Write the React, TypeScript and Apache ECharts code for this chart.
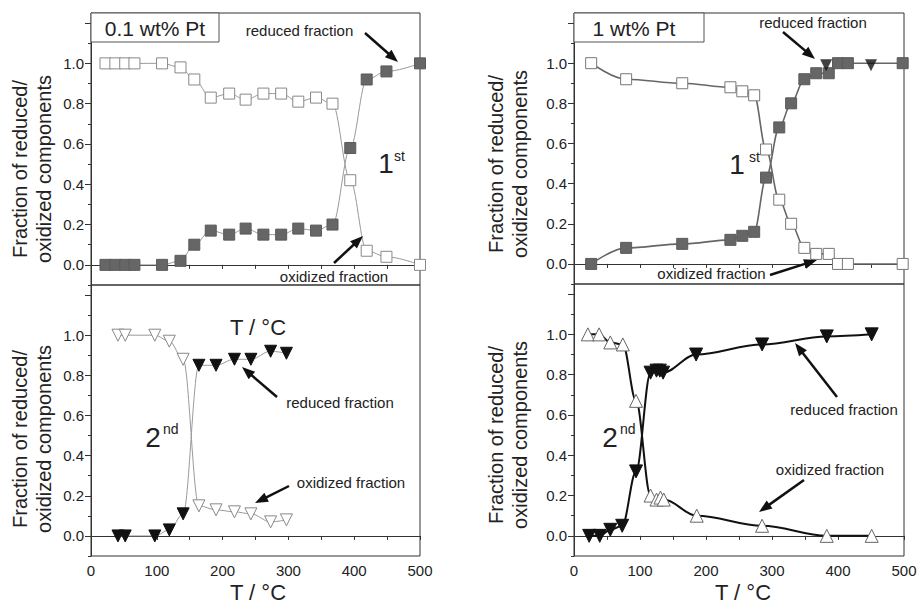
import React, { useEffect, useRef } from "react";
import * as echarts from "echarts";

// ---------- data ----------
// 0.1 wt% Pt, 1st cycle
const tl_T = [22, 37, 52, 66, 108, 136, 157, 182, 210, 235, 262, 289, 315, 342, 367, 394, 419, 449, 500];
const tl_oxidized = [1.0, 1.0, 1.0, 1.0, 1.0, 0.98, 0.92, 0.83, 0.85, 0.82, 0.85, 0.85, 0.81, 0.83, 0.8, 0.42, 0.07, 0.04, 0.0];
const tl_reduced = [0, 0, 0, 0, 0, 0.02, 0.1, 0.17, 0.15, 0.18, 0.15, 0.15, 0.18, 0.17, 0.2, 0.58, 0.92, 0.96, 1.0];

// 0.1 wt% Pt, 2nd cycle
const bl_T = [41, 52, 97, 119, 140, 164, 190, 218, 243, 273, 297];
const bl_oxidized = [1.0, 1.0, 1.0, 0.97, 0.88, 0.15, 0.13, 0.12, 0.11, 0.07, 0.08];
const bl_reduced = [0, 0, 0, 0.03, 0.11, 0.85, 0.85, 0.88, 0.88, 0.92, 0.91];

// 1 wt% Pt, 1st cycle
const tr_T = [26, 79, 164, 237, 255, 273, 291, 311, 329, 349, 367, 386, 400, 415, 498];
const tr_oxidized = [1.0, 0.92, 0.9, 0.88, 0.86, 0.84, 0.57, 0.32, 0.2, 0.08, 0.05, 0.05, 0.0, 0.0, 0.0];
const tr_reduced = [0.0, 0.08, 0.1, 0.12, 0.14, 0.16, 0.43, 0.68, 0.8, 0.92, 0.95, 0.95, 1.0, 1.0, 1.0];
const tr_extraT = [382, 450];
const tr_extra = [0.99, 0.99];

// 1 wt% Pt, 2nd cycle
const br_oxT = [21, 38, 55, 74, 94, 116, 125, 131, 136, 186, 285, 383, 451];
const br_oxidized = [1.0, 1.0, 0.96, 0.95, 0.67, 0.2, 0.18, 0.19, 0.18, 0.1, 0.05, 0.0, 0.0];
const br_redT = [23, 39, 55, 73, 94, 116, 125, 130, 135, 185, 285, 383, 451];
const br_reduced = [0.0, 0.0, 0.03, 0.05, 0.32, 0.81, 0.82, 0.82, 0.81, 0.9, 0.95, 0.99, 1.0];

// ticks
const xTicks = [0, 50, 100, 150, 200, 250, 300, 350, 400, 450, 500];
const xTickLabels = [0, 100, 200, 300, 400, 500];
const yMajorTicks = [0, 0.2, 0.4, 0.6, 0.8, 1.0, 1.2];
const yTickLabels = [0, 0.2, 0.4, 0.6, 0.8, 1.0];
const yMinorTicks = [-0.1, 0.1, 0.3, 0.5, 0.7, 0.9, 1.1];

const yAxisTitle = "Fraction of reduced/\noxidized components";
const xAxisTitle = "T / °C";

// ---------- layout ----------
const FONT = "'Liberation Sans', Arial, Helvetica, sans-serif";
const GRIDS = [
  { left: 91, top: 13, width: 329, height: 272 },
  { left: 91, top: 285, width: 329, height: 271 },
  { left: 574, top: 13, width: 330, height: 271 },
  { left: 574, top: 284, width: 330, height: 272 },
];

function pts(xs: number[], ys: number[]) {
  return xs.map((x, i) => [x, ys[i]]);
}

function arrow(x1: number, y1: number, x2: number, y2: number) {
  const dx = x2 - x1, dy = y2 - y1;
  const L = Math.hypot(dx, dy);
  const ux = dx / L, uy = dy / L;
  const hl = 13, hw = 5;
  const bx = x2 - ux * hl, by = y2 - uy * hl;
  return [
    { type: "line", z: 100, shape: { x1, y1, x2: bx + ux * 2, y2: by + uy * 2 }, style: { stroke: "#111", lineWidth: 2.5 } },
    { type: "polygon", z: 100, shape: { points: [[x2, y2], [bx - uy * hw, by + ux * hw], [bx + uy * hw, by - ux * hw]] }, style: { fill: "#111" } },
  ];
}

function txt(text: string, x: number, y: number, size: number, extra: any = {}) {
  const align = extra.align || "center";
  return {
    type: "text",
    z: 101,
    x,
    y,
    rotation: extra.rotation || 0,
    style: {
      text,
      fontSize: size,
      fontFamily: FONT,
      fill: "#222",
      lineHeight: extra.lineHeight,
      align,
      textAlign: align,
      verticalAlign: "middle",
      textVerticalAlign: "middle",
    },
  };
}

function box(x: number, y: number, w: number, h: number) {
  return { type: "rect", z: 99, shape: { x, y, width: w, height: h }, style: { fill: "#fff", stroke: "#555", lineWidth: 1 } };
}

function buildOption() {
  const grid = GRIDS.map((g) => ({ ...g, show: true, borderColor: "#333", borderWidth: 1, backgroundColor: "transparent" }));
  const xAxis = GRIDS.map((_, i) => ({
    type: "value",
    gridIndex: i,
    min: 0,
    max: 500,
    axisLine: { show: true, lineStyle: { color: "#333", width: 1 } },
    axisTick: { show: true, customValues: xTicks, length: 4, lineStyle: { color: "#333" } },
    axisLabel: {
      show: i === 1 || i === 3,
      customValues: xTickLabels,
      fontSize: 15,
      fontFamily: FONT,
      color: "#222",
      margin: 7,
    },
    splitLine: { show: false },
  }));
  const yAxis: any[] = [];
  GRIDS.forEach((_, i) => {
    yAxis.push({
      type: "value",
      gridIndex: i,
      position: "left",
      min: -0.1,
      max: 1.25,
      axisLine: { show: true, lineStyle: { color: "#333", width: 1 } },
      axisTick: { show: true, customValues: yMajorTicks, length: 6, lineStyle: { color: "#333" } },
      axisLabel: {
        customValues: yTickLabels,
        formatter: (v: number) => v.toFixed(1),
        fontSize: 15,
        fontFamily: FONT,
        color: "#222",
        margin: 7,
      },
      splitLine: { show: false },
    });
    yAxis.push({
      type: "value",
      gridIndex: i,
      position: "left",
      min: -0.1,
      max: 1.25,
      axisLine: { show: false },
      axisTick: { show: true, customValues: yMinorTicks, length: 3, lineStyle: { color: "#333" } },
      axisLabel: { show: false },
      splitLine: { show: false },
    });
  });

  const lineS = (gi: number, data: number[][], lineColor: string, lineWidth: number, symbol: string, size: number, fill: string, border: string, rotate = 0) => ({
    type: "line",
    xAxisIndex: gi,
    yAxisIndex: gi * 2,
    data,
    smooth: 0.35,
    smoothMonotone: "x",
    symbol,
    symbolSize: size,
    symbolRotate: rotate,
    showAllSymbol: true,
    lineStyle: { color: lineColor, width: lineWidth },
    itemStyle: { color: fill, borderColor: border, borderWidth: 1, opacity: 1 },
    emphasis: { disabled: true },
    z: 3,
  });

  const series: any[] = [
    lineS(0, pts(tl_T, tl_oxidized), "#999", 1, "rect", 11, "#fff", "#888"),
    lineS(0, pts(tl_T, tl_reduced), "#999", 1, "rect", 11, "#666", "#5a5a5a"),
    lineS(1, pts(bl_T, bl_oxidized), "#999", 1, "triangle", 12, "#fff", "#888", 180),
    lineS(1, pts(bl_T, bl_reduced), "#999", 1, "triangle", 12, "#111", "#111", 180),
    lineS(2, pts(tr_T, tr_oxidized), "#666", 1.6, "rect", 11, "#fff", "#777"),
    lineS(2, pts(tr_T, tr_reduced), "#666", 1.6, "rect", 11, "#666", "#5a5a5a"),
    {
      type: "scatter",
      xAxisIndex: 2,
      yAxisIndex: 4,
      data: pts(tr_extraT, tr_extra),
      symbol: "triangle",
      symbolRotate: 180,
      symbolSize: 12,
      itemStyle: { color: "#111" },
      z: 4,
    },
    lineS(3, pts(br_oxT, br_oxidized), "#111", 2, "triangle", 13, "#fff", "#666"),
    lineS(3, pts(br_redT, br_reduced), "#111", 2, "triangle", 13, "#111", "#111", 180),
  ];

  const elements: any[] = [
    // y axis titles
    txt(yAxisTitle, 32, 169, 20, { rotation: Math.PI / 2, lineHeight: 24 }),
    txt(yAxisTitle, 32, 439, 20, { rotation: Math.PI / 2, lineHeight: 24 }),
    txt(yAxisTitle, 508, 164, 20, { rotation: Math.PI / 2, lineHeight: 24 }),
    txt(yAxisTitle, 508, 435, 20, { rotation: Math.PI / 2, lineHeight: 24 }),
    // x axis titles
    txt(xAxisTitle, 258, 327, 22),
    txt(xAxisTitle, 258, 592, 22),
    txt(xAxisTitle, 743, 592, 22),
    // boxes
    box(91, 13, 128, 29),
    txt("0.1 wt% Pt", 155, 28.5, 21),
    box(574, 13, 130, 29),
    txt("1 wt% Pt", 634, 28.5, 21),
    // cycle labels
    txt("1", 386, 163, 28),
    txt("st", 394, 156, 14, { align: "left" }),
    txt("1", 737, 164.5, 28),
    txt("st", 749, 157, 14, { align: "left" }),
    txt("2", 153, 437, 28),
    txt("nd", 163, 429, 14, { align: "left" }),
    txt("2", 610, 437, 28),
    txt("nd", 620, 428.5, 14, { align: "left" }),
    // annotations
    txt("reduced fraction", 299.5, 30, 15),
    txt("oxidized fraction", 334, 276, 15),
    txt("reduced fraction", 340, 402, 15),
    txt("oxidized fraction", 351, 482, 15),
    txt("reduced fraction", 813, 22.5, 15),
    txt("oxidized fraction", 711.5, 273, 15),
    txt("reduced fraction", 844, 409, 15),
    txt("oxidized fraction", 830, 469, 15),
    ...arrow(365, 33, 398, 62),
    ...arrow(334, 263, 363, 236),
    ...arrow(277, 397, 242, 367),
    ...arrow(289, 486, 255, 503),
    ...arrow(783, 32, 815, 59),
    ...arrow(770, 275, 817, 260),
    ...arrow(837, 397, 795, 343),
    ...arrow(804, 480, 759, 512),
  ];

  return {
    animation: false,
    backgroundColor: "#fff",
    textStyle: { fontFamily: FONT },
    grid,
    xAxis,
    yAxis,
    series,
    graphic: { elements },
  };
}

export default function App() {
  const ref = useRef<HTMLDivElement>(null);
  useEffect(() => {
    if (!ref.current) return;
    const chart = echarts.init(ref.current, undefined, { renderer: "svg" });
    chart.setOption(buildOption() as any);
    return () => chart.dispose();
  }, []);
  return (
    <div
      ref={ref}
      style={{ position: "fixed", left: 0, top: 0, width: 921, height: 605, background: "#fff" }}
    />
  );
}
